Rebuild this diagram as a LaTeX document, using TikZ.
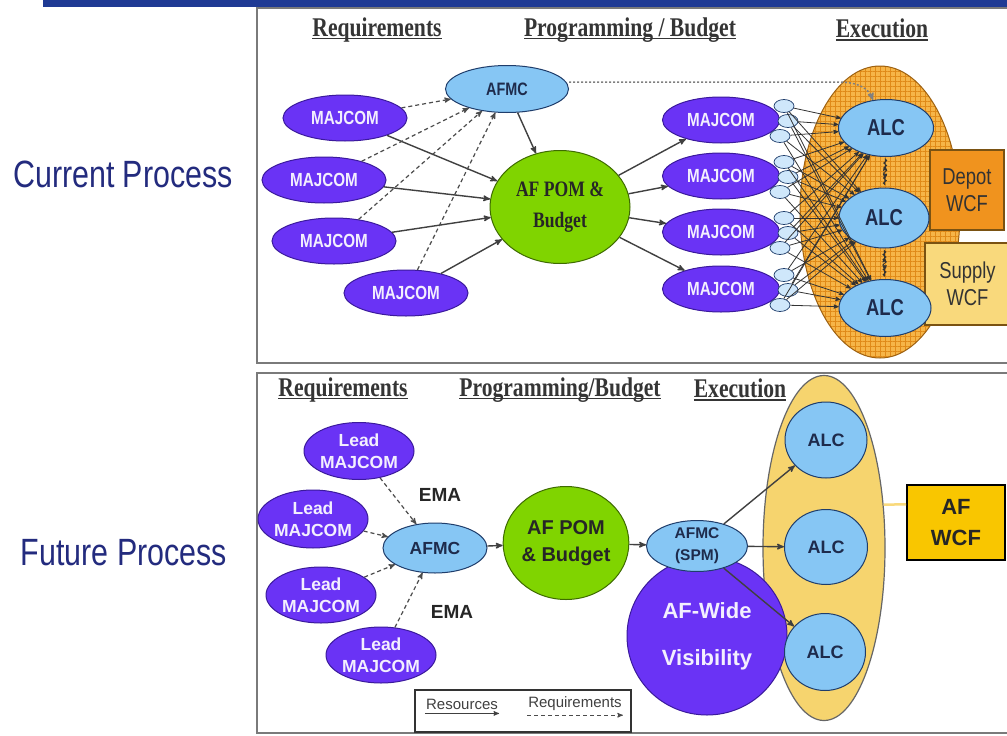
\documentclass[tikz,border=0pt]{standalone}
\usepackage{fontspec}
\setmainfont{Liberation Serif}
\setsansfont{Liberation Sans}
\newfontfamily\narrowsans[FakeStretch=0.8]{Liberation Sans}
\newfontfamily\narrowserif[FakeStretch=0.8]{Liberation Serif}
\usepackage{tikz}
\usetikzlibrary{arrows}
\usetikzlibrary{arrows,positioning,shapes.geometric,patterns.meta,decorations.pathmorphing}

\definecolor{majpurple}{HTML}{6A33F5}
\definecolor{majedge}{HTML}{3B1A9C}
\definecolor{afmcblue}{HTML}{86C6F4}
\definecolor{blueedge}{HTML}{1F3D6B}
\definecolor{pomgreen}{HTML}{80D400}
\definecolor{greenedge}{HTML}{3E6B00}
\definecolor{execorange}{HTML}{F6B548}
\definecolor{gridorange}{HTML}{E08A18}
\definecolor{depotorange}{HTML}{F0931E}
\definecolor{supplyyellow}{HTML}{F9D97C}
\definecolor{boxedge}{HTML}{7A5212}
\definecolor{execyellow}{HTML}{F6D46E}
\definecolor{wcfgold}{HTML}{F9C600}
\definecolor{navybar}{HTML}{1F3A94}
\definecolor{procblue}{HTML}{232B7E}
\definecolor{headgray}{HTML}{353535}
\definecolor{panelgray}{HTML}{7A7A7A}
\definecolor{textnavy}{HTML}{1E2B4C}
\definecolor{smallblue}{HTML}{CFE7FB}

\newcommand{\headul}[1]{\setbox0\hbox{#1}\rlap{\rule[-3pt]{\wd0}{1.8pt}}\box0}

\tikzset{
  %Define standard arrow tip
  >=stealth',
  % panels and labels
  panel/.style={draw=panelgray, line width=2.5pt},
  proclabel/.style={text=procblue, font=\narrowsans\fontsize{38}{40}\selectfont},
  heading/.style={text=headgray, inner sep=0pt, font=\narrowserif\bfseries\fontsize{27}{30}\selectfont},
  % Define styles for ellipses
  majcom/.style={ellipse, draw=majedge, fill=majpurple, line width=1pt, inner sep=0pt,
    minimum width=124pt, minimum height=46pt, text=white!92!majpurple,
    font=\narrowsans\bfseries\fontsize{19}{21}\selectfont},
  leadmaj/.style={ellipse, draw=majedge, fill=majpurple, line width=1pt, inner sep=0pt,
    align=center, text=white!92!majpurple, font=\sffamily\bfseries\fontsize{17.5}{22.5}\selectfont},
  afmc/.style={ellipse, draw=blueedge, fill=afmcblue, line width=1pt, inner sep=0pt,
    align=center, text=textnavy},
  tinyell/.style={ellipse, draw=blueedge, fill=smallblue, line width=0.7pt, inner sep=0pt,
    minimum width=20pt, minimum height=13pt},
  pom/.style={ellipse, draw=greenedge, fill=pomgreen, line width=1pt, inner sep=0pt,
    align=center, text=black!85},
  execoval/.style={ellipse, draw=gridorange!70!black, line width=1pt, inner sep=0pt,
    preaction={fill=execorange}, pattern={Hatch[angle=0,distance=5pt,line width=0.7pt]},
    pattern color=gridorange},
  wcfbox/.style={rectangle, draw=boxedge, line width=2pt, inner sep=0pt, align=center,
    text=black!80, font=\narrowsans\fontsize{23}{27}\selectfont},
  % Define arrow styles
  res/.style={->, draw=black!75, line width=1.4pt},
  req/.style={->, draw=black!70, line width=1.2pt, dash pattern=on 4pt off 3pt},
  fan/.style={->, draw=black!80, line width=0.8pt},
  dotline/.style={->, draw=black!50, line width=1.5pt, dash pattern=on 2pt off 2pt},
  wiggle/.style={<->, draw=black!80, line width=0.8pt, shorten >=9pt, shorten <=9pt,
    decorate, decoration={snake, amplitude=1.5pt, segment length=5pt, post length=2pt, pre length=2pt}}
}

\begin{document}
\begin{tikzpicture}[x=1pt,y=-1pt]
  \useasboundingbox (0,0) rectangle (1007,736);
  \fill[white] (0,0) rectangle (1007,736);
  \fill[navybar] (43,0) rectangle (1007,7);
  \draw[panel] (257,8) rectangle (1020,363);
  \draw[panel] (257,373) rectangle (1020,733);
  \node[proclabel] (cur) at (123,174) {Current Process};
  \node[proclabel] (fut) at (124,553) {Future Process};

  % current process
  \node[heading] (reqA) at (377,30) {\headul{Requirements}};
  \node[heading] (prgA) at (630,30) {\headul{Programming / Budget}};
  \node[heading] (exeA) at (882,30) {\headul{Execution}};

  \node[afmc, minimum width=123pt, minimum height=47pt,
    font=\narrowsans\bfseries\fontsize{18}{20}\selectfont] (afmcA) at (507,89) {AFMC};
  \node[majcom] (majA1) at (345,118) {MAJCOM};
  \node[majcom] (majA2) at (324,180) {MAJCOM};
  \node[majcom] (majA3) at (334,241) {MAJCOM};
  \node[majcom] (majA4) at (406,293) {MAJCOM};
  \node[pom, minimum width=140pt, minimum height=113pt,
    font=\narrowserif\bfseries\fontsize{22}{31}\selectfont] (pomA) at (560,207) {AF POM \&\\Budget};

  \node[execoval, minimum width=160pt, minimum height=292pt] (execA) at (880,212) {};
  \node[wcfbox, fill=depotorange, minimum width=74pt, minimum height=80pt] (depot) at (967,190) {Depot\\WCF};
  \node[wcfbox, fill=supplyyellow, minimum width=85pt, minimum height=82pt] (supply) at (967.5,284) {Supply\\WCF};
  \node[afmc, minimum width=95pt, minimum height=57pt,
    font=\narrowsans\bfseries\fontsize{23}{25}\selectfont] (alcA1) at (886,128) {ALC};
  \node[afmc, minimum width=90pt, minimum height=60pt,
    font=\narrowsans\bfseries\fontsize{23}{25}\selectfont] (alcA2) at (884,218) {ALC};
  \node[afmc, minimum width=92pt, minimum height=57pt,
    font=\narrowsans\bfseries\fontsize{23}{25}\selectfont] (alcA3) at (885,308) {ALC};

  \foreach \m/\y in {1/120,2/176,3/232,4/289}{
    \node[majcom, minimum width=117pt] (majB\m) at (721,\y) {MAJCOM};
    \node[tinyell] (sm\m-a) at ([shift={(4,-14)}]majB\m.east) {};
    \node[tinyell] (sm\m-b) at ([shift={(8,1)}]majB\m.east) {};
    \node[tinyell] (sm\m-c) at ([shift={(0,16)}]majB\m.east) {};
  }
  \foreach \m in {1,...,4}
    \foreach \s in {a,b,c}
      \foreach \t in {1,2,3}
        \draw[fan] (sm\m-\s) -- (alcA\t);

  \foreach \m in {1,...,4}{
    \draw[req] (majA\m) -- (afmcA);
    \draw[res] (majA\m) -- (pomA);
    \draw[res] (pomA) -- (majB\m);
  }
  \draw[res] (afmcA) -- (pomA);
  \draw[dotline] ([yshift=7pt]afmcA.east) -- ([yshift=7pt]afmcA.east -| alcA1.west)
    to[out=0,in=110] (alcA1.115);
  \draw[wiggle] (alcA1) -- (alcA2);
  \draw[wiggle] (alcA2) -- (alcA3);

  % future process
  \node[heading] (reqB) at (343,390) {\headul{Requirements}};
  \node[heading] (prgB) at (560,390) {\headul{Programming/Budget}};
  \node[heading] (exeB) at (740,390) {\headul{Execution}};

  \node[leadmaj, minimum width=95pt, minimum height=57pt] (lead1) at (359,451) {Lead\\MAJCOM};
  \node[leadmaj, minimum width=103pt, minimum height=58pt] (lead2) at (313,519) {Lead\\MAJCOM};
  \node[leadmaj, minimum width=102pt, minimum height=56pt] (lead3) at (321,595) {Lead\\MAJCOM};
  \node[leadmaj, minimum width=102pt, minimum height=56pt] (lead4) at (381,655) {Lead\\MAJCOM};
  \node[afmc, minimum width=104pt, minimum height=50pt,
    font=\sffamily\bfseries\fontsize{17.5}{20}\selectfont] (afmcB) at (435,548) {AFMC};
  \node[text=black!85, font=\sffamily\bfseries\fontsize{19}{21}\selectfont] (emaU) at (440,495) {EMA};
  \node[text=black!85, font=\sffamily\bfseries\fontsize{19}{21}\selectfont] (emaD) at (452,612) {EMA};
  \node[pom, minimum width=112pt, minimum height=113pt,
    font=\sffamily\bfseries\fontsize{20}{27}\selectfont] (pomB) at (566,543) {AF POM\\\& Budget};

  \node[ellipse, draw=black!60, line width=1.2pt, fill=execyellow,
    minimum width=122pt, minimum height=345pt] (execB) at (824,548) {};
  \node[ellipse, fill=majpurple, draw=majedge, line width=1pt, inner sep=0pt, align=center,
    minimum width=160pt, minimum height=158pt, text=white!92!majpurple,
    font=\sffamily\bfseries\fontsize{22}{47}\selectfont] (vis) at (707,636) {AF-Wide\\Visibility};
  \node[afmc, minimum width=101pt, minimum height=48pt,
    font=\sffamily\bfseries\fontsize{15.5}{22}\selectfont] (spm) at (697,546) {AFMC\\(SPM)};
  \node[afmc, minimum width=82pt, minimum height=76pt,
    font=\sffamily\bfseries\fontsize{18}{20}\selectfont] (alcB1) at (826,440) {ALC};
  \node[afmc, minimum width=83pt, minimum height=75pt,
    font=\sffamily\bfseries\fontsize{18}{20}\selectfont] (alcB2) at (826,547) {ALC};
  \node[afmc, minimum width=81pt, minimum height=77pt,
    font=\sffamily\bfseries\fontsize{18}{20}\selectfont] (alcB3) at (825,652) {ALC};
  \node[rectangle, draw=black, line width=2pt, fill=wcfgold, align=center,
    minimum width=98pt, minimum height=75pt, text=black!85,
    font=\sffamily\bfseries\fontsize{22}{31}\selectfont] (afwcf) at (956,522.5) {AF\\WCF};
  \draw[draw=supplyyellow, line width=2.5pt] (afwcf.160) -- (execB.36);

  \foreach \i in {1,...,4}
    \draw[req] (lead\i) -- (afmcB);
  \draw[res] (afmcB) -- (pomB);
  \draw[res] (pomB) -- (spm);
  \foreach \i in {1,2,3}
    \draw[res] (spm) -- (alcB\i);

  % legend
  \node[rectangle, draw=black!80, line width=1.5pt, minimum width=216pt, minimum height=42pt] (legend) at (523,711) {};
  \node[text=black!75, inner sep=1pt, font=\sffamily\fontsize{15}{17}\selectfont] (resl) at (462,704) {Resources};
  \node[text=black!75, inner sep=1pt, font=\sffamily\fontsize{15}{17}\selectfont] (reql) at (575,704) {Requirements};
  \draw[res, line width=1pt] ([yshift=-3pt]resl.south west) -- ([yshift=-3pt]resl.south east);
  \draw[req, line width=1pt] ([yshift=-3pt]reql.south west) -- ([yshift=-3pt]reql.south east);
\end{tikzpicture}
\end{document}
